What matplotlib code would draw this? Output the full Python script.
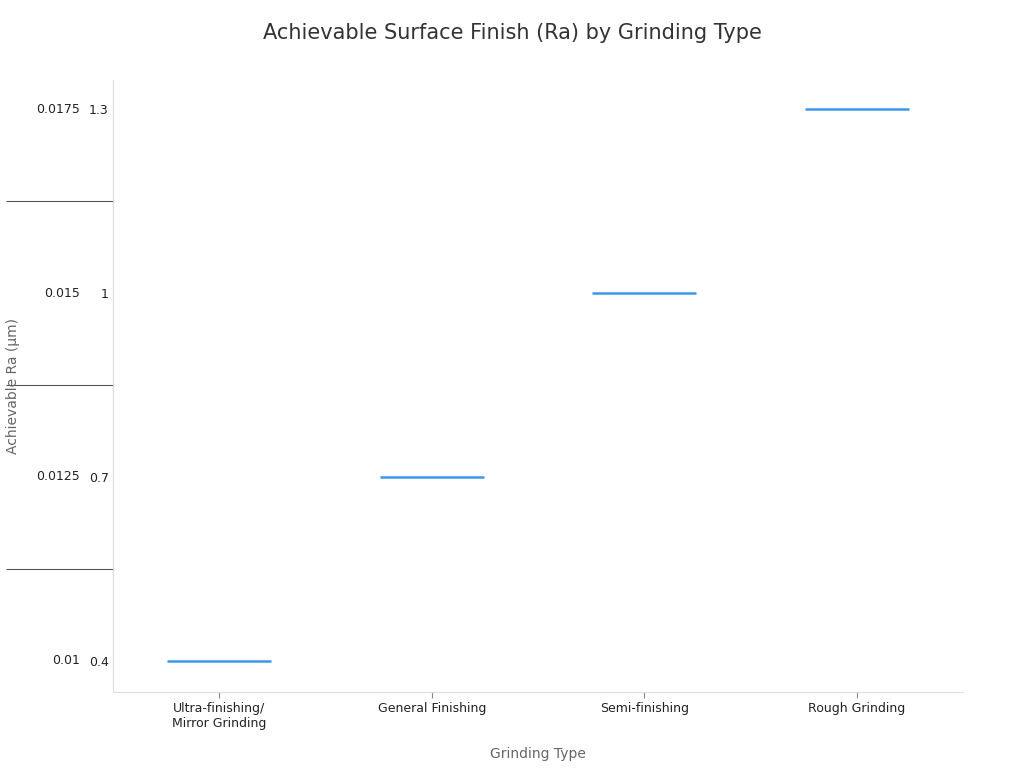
import matplotlib
matplotlib.use("Agg")
import matplotlib.pyplot as plt
from matplotlib.transforms import blended_transform_factory

categories = ["Ultra-finishing/\nMirror Grinding", "General Finishing", "Semi-finishing", "Rough Grinding"]
ra_values = ["0.4", "0.7", "1", "1.3"]
secondary_labels = ["0.01", "0.0125", "0.015", "0.0175"]
levels = [0, 1, 2, 3]  # index of each category's Ra level

fig = plt.figure(figsize=(10.24, 7.68), dpi=100)
ax = fig.add_axes([113/1024, 1-692/768, 850/1024, 612/768])

for i, lv in enumerate(levels):
    ax.hlines(lv, i - 0.245, i + 0.245, color="#3a96e8", lw=1.8)

ax.set_xlim(-0.5, 3.5)
ax.set_ylim(-0.17, 3.16)
ax.set_xticks(range(len(categories)))
ax.set_xticklabels(categories, fontsize=9, color="#222222")
ax.set_yticks(range(len(ra_values)))
ax.set_yticklabels(ra_values, fontsize=9, color="#222222")
ax.tick_params(axis="y", length=0, pad=3)
ax.tick_params(axis="x", length=4, color="#888888")
ax.set_yticks([0.5, 1.5, 2.5], minor=True)
ax.tick_params(axis="y", which="minor", length=77, color="#555555", width=0.8)

tr = blended_transform_factory(fig.transFigure, ax.transData)
for lv, s in zip(range(len(secondary_labels)), secondary_labels):
    fig.text(80/1024, 0, s, transform=tr, ha="right", va="center", fontsize=9, color="#222222") if False else None
    ax.text(80/1024, lv, s, transform=tr, ha="right", va="center", fontsize=9, color="#222222")

for s in ["top", "right"]:
    ax.spines[s].set_visible(False)
for s in ["left", "bottom"]:
    ax.spines[s].set_color("#dddddd")

ax.set_xlabel("Grinding Type", fontsize=10, color="#666666", labelpad=12)
fig.text(13/1024, 1-386/768, "Achievable Ra (µm)", rotation=90, ha="center", va="center", fontsize=10, color="#666666")
fig.suptitle("Achievable Surface Finish (Ra) by Grinding Type", fontsize=15, color="#333333", y=1-33/768, va="center")

fig.savefig("out.png", dpi=100)
